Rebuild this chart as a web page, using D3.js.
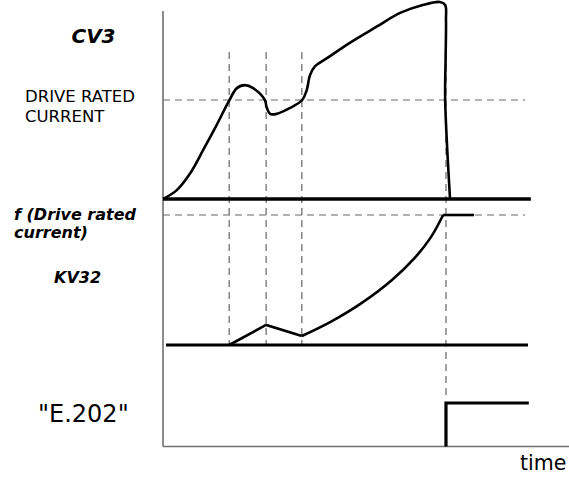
<!DOCTYPE html>
<html>
<head>
<meta charset="utf-8">
<script src="https://cdn.jsdelivr.net/npm/d3@7"></script>
<style>
  html, body { margin: 0; padding: 0; background: #fff; }
  svg { display: block; }
  text { font-family: "DejaVu Sans", Verdana, sans-serif; fill: #000; }
</style>
</head>
<body>
<svg id="chart" width="569" height="477"></svg>
<script>
// ---- data (time in % of x span, current in % of drive rated current) ----
const eventTimes = [16.3, 25.4, 34.2, 69.7];

const currentT = [0, 3.4, 6.7, 9.9, 13.2, 16.3, 18.2, 20.2, 22.2, 25.1, 25.5, 26.4, 28.0, 31.3, 34.3, 35.4, 36.2, 37.4, 40.3, 46.1, 52.6, 58.4, 64.0, 68.2, 69.5, 69.7, 69.6, 69.5, 70.7];
const currentI = [0, 9, 26, 49.5, 74.7, 99.3, 112, 115, 112, 100, 93, 86, 86, 92, 100, 110, 125, 134, 142, 158, 174, 188, 196, 199, 196, 181, 140, 100, 0];

const kvRampT = [16.3, 25.4, 34.2];
const kvRampF = [0, 15.4, 6.9];
const kvCurveT = [34.2, 41.4, 48.8, 56.4, 62.0, 66.0, 69.0];
const kvCurveF = [6.9, 18.0, 32.0, 50.0, 67.0, 83.0, 100];
const kvHoldT = [69.0, 76.6];
const kvHoldF = [100, 100];

const errT = [69.7, 69.7, 90.1];
const errV = [0, 1, 1];

const labels = {
  cv3: "CV3",
  rated: ["DRIVE RATED", "CURRENT"],
  f: ["f (Drive rated", "current)"],
  kv: "KV32",
  err: "\"E.202\"",
  time: "time"
};

// ---- scales ----
const svg = d3.select("#chart");
const x = d3.scaleLinear().domain([0, 100]).range([163, 569]);
const yI = d3.scaleLinear().domain([0, 100]).range([199, 100]);
const yF = d3.scaleLinear().domain([0, 100]).range([345, 215]);
const yE = d3.scaleLinear().domain([0, 1]).range([446.5, 403]);

const dash = "7,5";
const gray = "#666";

// dashed horizontal reference lines
svg.append("line").attr("x1", x(0)).attr("x2", x(89.2)).attr("y1", yI(100)).attr("y2", yI(100))
  .attr("stroke", gray).attr("stroke-width", 1.2).attr("stroke-dasharray", dash);
svg.append("line").attr("x1", x(0)).attr("x2", x(89.2)).attr("y1", yF(100)).attr("y2", yF(100))
  .attr("stroke", gray).attr("stroke-width", 1.2).attr("stroke-dasharray", dash);

// dashed vertical event lines
eventTimes.forEach((t, i) => {
  svg.append("line")
    .attr("x1", x(t)).attr("x2", x(t))
    .attr("y1", yI(148.5))
    .attr("y2", i < 3 ? yF(0) : yE(1) - 3)
    .attr("stroke", gray).attr("stroke-width", 1.2).attr("stroke-dasharray", dash);
});

// axes
svg.append("line").attr("x1", x(0)).attr("x2", x(0)).attr("y1", yI(190)).attr("y2", yE(0))
  .attr("stroke", "#707070").attr("stroke-width", 1.6);
svg.append("line").attr("x1", x(0)).attr("x2", x(100)).attr("y1", yE(0)).attr("y2", yE(0))
  .attr("stroke", "#707070").attr("stroke-width", 1.6);

// baselines
svg.append("line").attr("x1", x(0)).attr("x2", x(90.6)).attr("y1", yI(0)).attr("y2", yI(0))
  .attr("stroke", "#000").attr("stroke-width", 3.6);
svg.append("line").attr("x1", x(0.74)).attr("x2", x(89.9)).attr("y1", yF(0)).attr("y2", yF(0))
  .attr("stroke", "#000").attr("stroke-width", 3.2);

// current curve
const curLine = d3.line().x(d => x(d[0])).y(d => yI(d[1])).curve(d3.curveCatmullRom.alpha(0.5));
svg.append("path").datum(currentT.map((t, i) => [t, currentI[i]]))
  .attr("d", curLine).attr("fill", "none").attr("stroke", "#000").attr("stroke-width", 2.6)
  .attr("stroke-linejoin", "round");

// KV32 (f) curve
const fLin = d3.line().x(d => x(d[0])).y(d => yF(d[1]));
const fCurve = d3.line().x(d => x(d[0])).y(d => yF(d[1])).curve(d3.curveCatmullRom.alpha(0.5));
svg.append("path").datum(kvRampT.map((t, i) => [t, kvRampF[i]]))
  .attr("d", fLin).attr("fill", "none").attr("stroke", "#000").attr("stroke-width", 2.6);
svg.append("path").datum(kvCurveT.map((t, i) => [t, kvCurveF[i]]))
  .attr("d", fCurve).attr("fill", "none").attr("stroke", "#000").attr("stroke-width", 2.6);
svg.append("path").datum(kvHoldT.map((t, i) => [t, kvHoldF[i]]))
  .attr("d", fLin).attr("fill", "none").attr("stroke", "#000").attr("stroke-width", 2.6);

// E.202 step
svg.append("path").datum(errT.map((t, i) => [t, errV[i]]))
  .attr("d", d3.line().x(d => x(d[0])).y(d => yE(d[1])))
  .attr("fill", "none").attr("stroke", "#000").attr("stroke-width", 3.2);

// labels
svg.append("text").attr("x", 93.5).attr("y", 43).attr("text-anchor", "middle")
  .style("font-size", "20px").style("font-weight", "bold").style("font-style", "italic").text(labels.cv3);
labels.rated.forEach((s, i) => svg.append("text").attr("x", 25).attr("y", 102 + i * 20)
  .style("font-size", "16.5px").text(s));
labels.f.forEach((s, i) => svg.append("text").attr("x", 14).attr("y", 220 + i * 17.5)
  .style("font-size", "16px").style("font-weight", "bold").style("font-style", "italic").text(s));
svg.append("text").attr("x", 54).attr("y", 283)
  .style("font-size", "16px").style("font-weight", "bold").style("font-style", "italic").text(labels.kv);
svg.append("text").attr("x", 38).attr("y", 422).style("font-size", "24px").text(labels.err);
svg.append("text").attr("x", 520).attr("y", 470).style("font-size", "20.5px").text(labels.time);
</script>
</body>
</html>
